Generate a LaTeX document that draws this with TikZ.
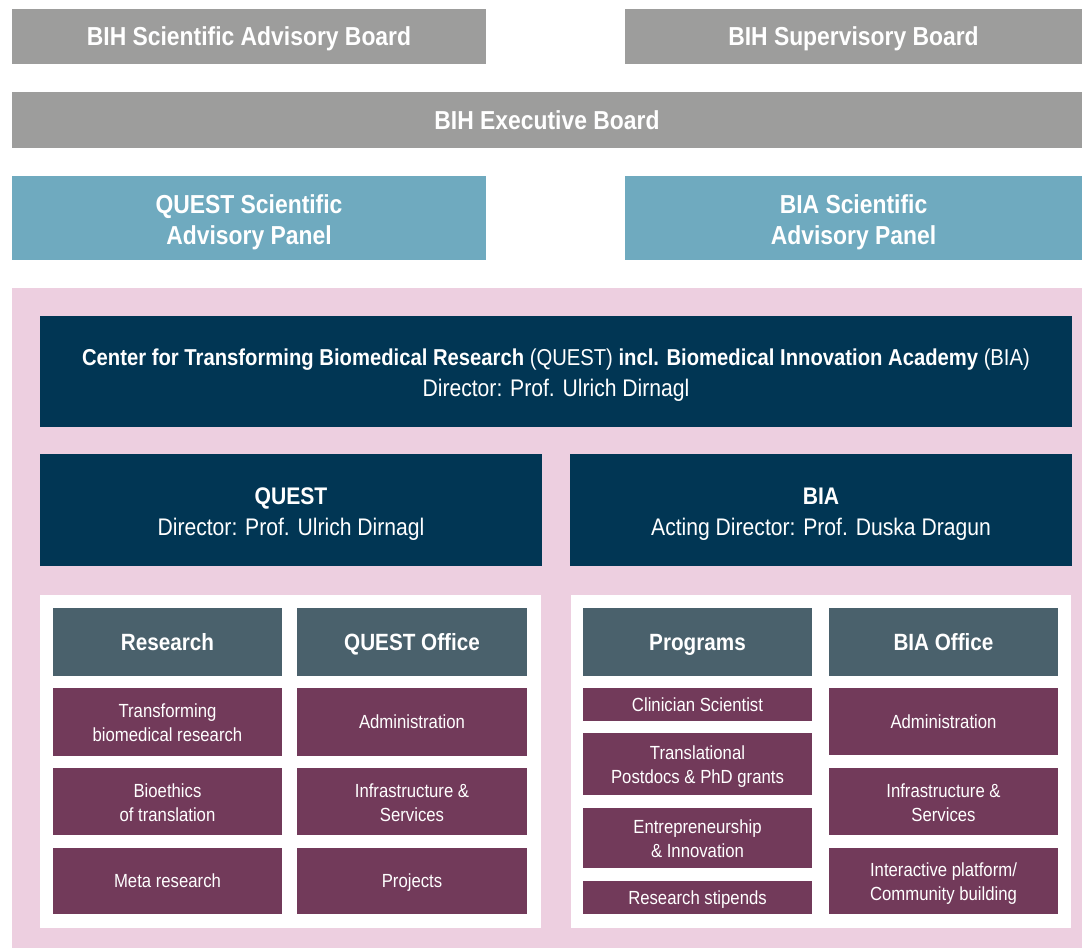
\documentclass[tikz,border=0pt]{standalone}
\usepackage{fontspec}
\setmainfont{Liberation Sans}[FakeStretch=0.88]
\definecolor{boardgray}{HTML}{9D9D9C}
\definecolor{panelteal}{HTML}{6FAABF}
\definecolor{bgpink}{HTML}{EDCFE0}
\definecolor{navy}{HTML}{013654}
\definecolor{slate}{HTML}{4A616C}
\definecolor{plum}{HTML}{723A5A}
% strut centred on the cap height, so labels sit in the middle of their boxes
\newcommand\capstrut{\rule[-0.18em]{0pt}{1.08em}}
% taller strut for the first line of two-line labels
\newcommand\tallstrut{\rule{0pt}{1.02em}}

\begin{document}
\begin{tikzpicture}[
  x=1pt, y=-1pt,
  box/.style={inner sep=0pt, text=white, align=center,
              execute at begin node=\capstrut, execute at end node=\capstrut},
  board/.style={box, fill=boardgray, minimum height=55pt,
                font=\fontsize{26}{30}\selectfont\bfseries},
  panel/.style={box, fill=panelteal, minimum height=84pt,
                font=\fontsize{26}{31}\selectfont\bfseries},
  unit/.style={box, fill=navy, font=\fontsize{24}{31}\selectfont},
  head/.style={box, fill=slate, minimum width=229pt, minimum height=68pt,
               font=\fontsize{23.5}{30}\selectfont\bfseries},
  item/.style={box, fill=plum, minimum width=229pt,
               font=\fontsize{19}{24}\selectfont},
]
\useasboundingbox (0,0) rectangle (1082,948);

% ---- BIH boards ----
\node[board, minimum width=474pt] (sab) at (249,36.5) {BIH Scientific Advisory Board};
\node[board, minimum width=457pt] (sup) at (853.5,36.5) {BIH Supervisory Board};
\node[board, minimum width=1070pt, minimum height=56pt] (exb) at (547,120) {BIH Executive Board};

% ---- advisory panels ----
\node[panel, minimum width=474pt] (qsap) at (249,218) {\tallstrut QUEST Scientific\\Advisory Panel};
\node[panel, minimum width=457pt] (bsap) at (853.5,218) {\tallstrut BIA Scientific\\Advisory Panel};

% ---- pink area and white panels ----
\fill[bgpink] (12,288) rectangle (1082,948);
\fill[white] (40,595) rectangle (541,928);
\fill[white] (571,595) rectangle (1071,928);

% ---- center and its two parts ----
\node[unit, minimum width=1032pt, minimum height=111pt, font=\fontsize{23}{31}\selectfont] (center) at (556,371.5)
  {\tallstrut\textbf{Center for Transforming Biomedical Research} (QUEST) \textbf{incl. Biomedical Innovation Academy} (BIA)\\\fontsize{24}{31}\selectfont Director: Prof. Ulrich Dirnagl};
\node[unit, minimum width=502pt, minimum height=112pt] (quest) at (291,510)
  {\tallstrut\textbf{QUEST}\\Director: Prof. Ulrich Dirnagl};
\node[unit, minimum width=502pt, minimum height=112pt] (bia) at (821,510)
  {\tallstrut\textbf{BIA}\\Acting Director: Prof. Duska Dragun};

% ---- QUEST columns ----
\node[head] (research) at (167.5,642) {Research};
\node[head, minimum width=230pt] (qoffice) at (412,642) {QUEST Office};
\node[item, minimum height=68pt] (transf) at (167.5,722) {\tallstrut Transforming\\biomedical research};
\node[item, minimum height=67pt] (bioeth) at (167.5,801.5) {\tallstrut Bioethics\\of translation};
\node[item, minimum height=66pt] (meta) at (167.5,881) {Meta research};
\node[item, minimum width=230pt, minimum height=68pt] (qadmin) at (412,722) {Administration};
\node[item, minimum width=230pt, minimum height=67pt] (qinfra) at (412,801.5) {\tallstrut Infrastructure \&\\Services};
\node[item, minimum width=230pt, minimum height=66pt] (projects) at (412,881) {Projects};

% ---- BIA columns ----
\node[head] (programs) at (697.5,642) {Programs};
\node[head] (boffice) at (943.5,642) {BIA Office};
\node[item, minimum height=33pt] (clinsci) at (697.5,704.5) {Clinician Scientist};
\node[item, minimum height=62pt] (transl) at (697.5,764) {\tallstrut Translational\\Postdocs \& PhD grants};
\node[item, minimum height=60pt] (entre) at (697.5,838) {\tallstrut Entrepreneurship\\\& Innovation};
\node[item, minimum height=33pt] (stip) at (697.5,897.5) {Research stipends};
\node[item, minimum height=67pt] (badmin) at (943.5,721.5) {Administration};
\node[item, minimum height=67pt] (binfra) at (943.5,801.5) {\tallstrut Infrastructure \&\\Services};
\node[item, minimum height=66pt] (interact) at (943.5,881) {\tallstrut Interactive platform/\\Community building};

\end{tikzpicture}
\end{document}
